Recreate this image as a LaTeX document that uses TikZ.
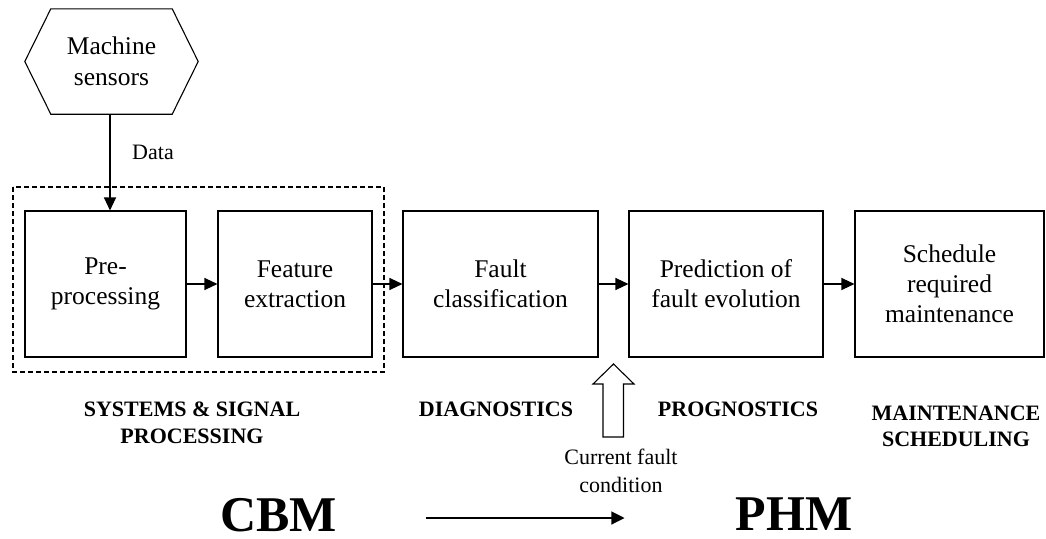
\documentclass[tikz,border=0pt]{standalone}
\usepackage{fontspec}
\setmainfont{Liberation Serif}
\usetikzlibrary{arrows.meta}
\begin{document}
\begin{tikzpicture}[x=1pt,y=-1pt,
  stage/.style={draw, line width=1.1pt, minimum height=146pt, inner sep=0pt,
    align=center, font=\fontsize{25.5}{30}\selectfont},
  arr/.style={line width=1.1pt, -{Triangle[length=13pt,width=12pt]}},
  phase/.style={align=center, inner sep=0pt, font=\fontsize{22}{26.5}\selectfont\bfseries},
  note/.style={align=center, inner sep=0pt, font=\fontsize{22}{28}\selectfont},
  big/.style={inner sep=0pt, font=\fontsize{50}{56}\selectfont\bfseries}]
\useasboundingbox (0,0) rectangle (1046,538);

% sensor source (hexagon)
\node[minimum width=173pt, minimum height=105pt, inner sep=0pt, align=center,
  font=\fontsize{25.5}{31}\selectfont] (sensors) at (111.5,61.5) {Machine\\sensors};
\draw[line width=1.1pt] (sensors.west) -- ([xshift=26pt]sensors.north west)
  -- ([xshift=-26pt]sensors.north east) -- (sensors.east)
  -- ([xshift=-26pt]sensors.south east) -- ([xshift=26pt]sensors.south west) -- cycle;

% processing chain
\node[stage, minimum width=161pt] (pre)   at (105.5,284) {Pre-\\processing};
\node[stage, minimum width=154pt] (feat)  at (295,284)   {Feature\\extraction};
\node[stage, minimum width=195pt] (fault) at (500.5,284) {Fault\\classification};
\node[stage, minimum width=194pt] (pred)  at (726,284)   {Prediction of\\fault evolution};
\node[stage, minimum width=189pt] (sched) at (949.5,284) {Schedule\\required\\maintenance};

% signal-processing group
\draw[line width=1.1pt, dash pattern=on 5pt off 3pt] (13,187) rectangle (384,372);

% data flow
\draw[arr] (sensors.south -| 110,0) -- (110,0 |- pre.north);
\node[note] (data) at (153,152.5) {Data};
\draw[arr] (pre) -- (feat);
\draw[arr] (feat) -- (fault);
\draw[arr] (fault) -- (pred);
\draw[arr] (pred) -- (sched);

% current fault condition (hollow block arrow)
\node[note] (cond) at (621,470.5) {Current fault\\condition};
\coordinate (tip) at (613.5,364);
\coordinate (foot) at (613,437);
\draw[line width=1.1pt] (tip) -- ++(20.5,20) -- ++(-10.5,0) |- ([xshift=-10pt]foot)
  -- (603,384) -- ++(-10,0) -- cycle;

% phase labels
\node[phase] (sig)   at (192,423)   {SYSTEMS \& SIGNAL\\PROCESSING};
\node[phase] (diag)  at (496,409.5) {DIAGNOSTICS};
\node[phase] (prog)  at (738,409.5) {PROGNOSTICS};
\node[phase] (maint) at (956,426.5) {MAINTENANCE\\SCHEDULING};

% CBM to PHM
\node[big] (cbm) at (278.5,515) {CBM};
\node[big] (phm) at (794,514.5) {PHM};
\draw[line width=1.1pt, -{Triangle[length=13pt,width=13pt]}, shorten <=89pt, shorten >=111pt]
  ([yshift=-3pt]cbm.east) -- ([yshift=-3pt]cbm.east -| phm.west);
\end{tikzpicture}
\end{document}
